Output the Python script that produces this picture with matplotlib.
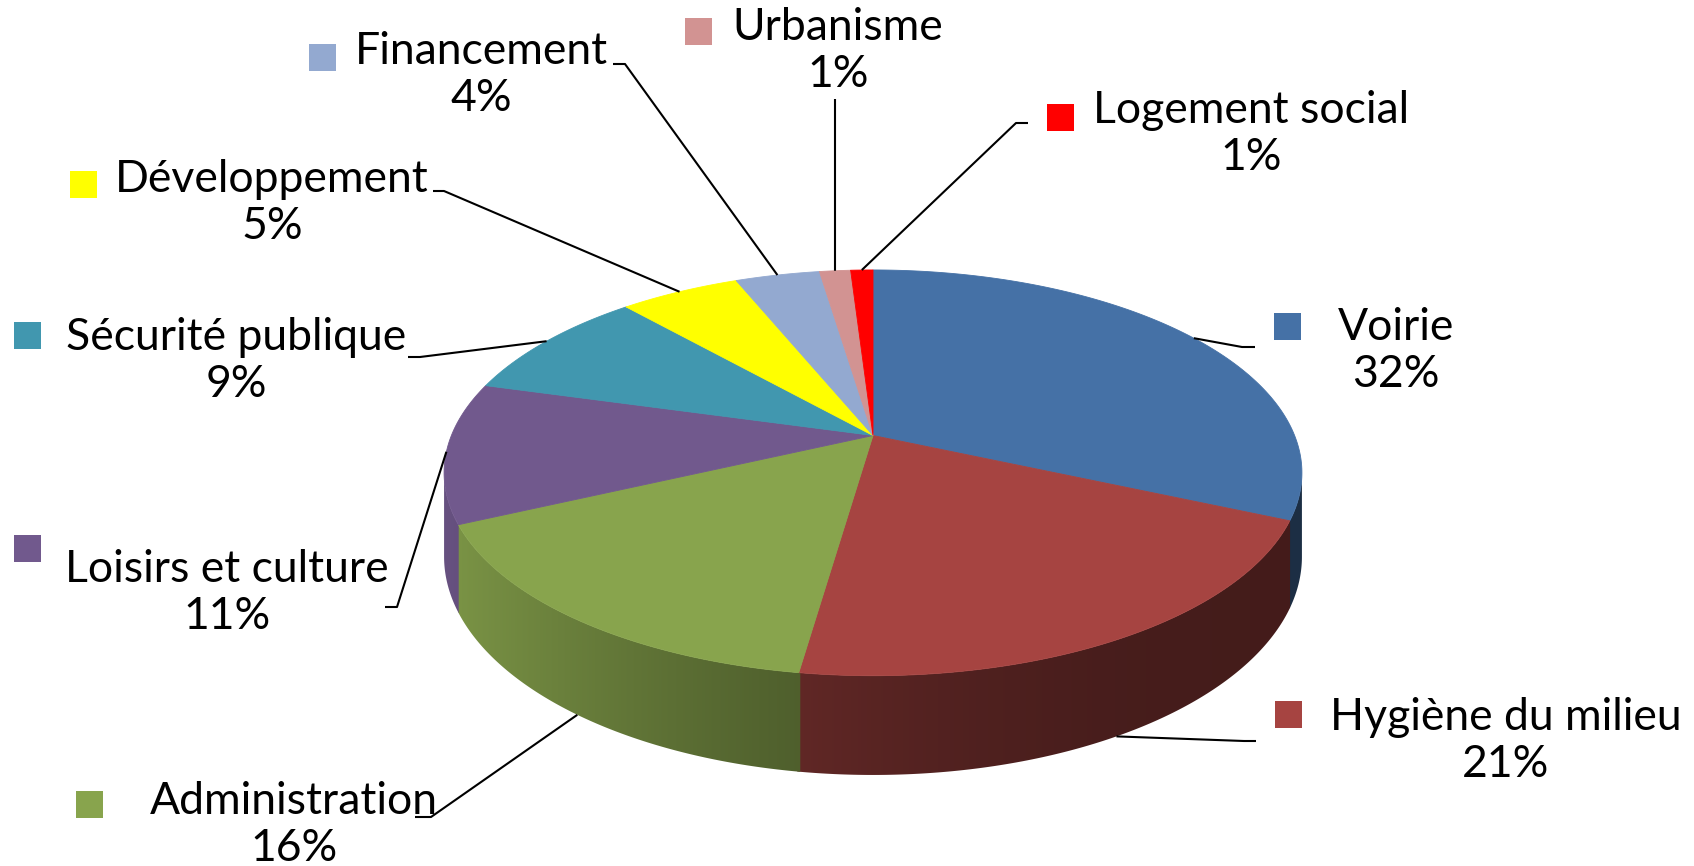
import matplotlib.pyplot as plt
import numpy as np
from matplotlib.patches import Polygon, Rectangle
from matplotlib.colors import to_rgb

# data
categories = ['Voirie', 'Hygiène du milieu', 'Administration', 'Loisirs et culture',
              'Sécurité publique', 'Développement', 'Financement', 'Urbanisme',
              'Logement social']
shares = [31.6, 20.7, 15.8, 11.2, 9.1, 5.4, 3.8, 1.4, 1.0]
colors = ['#4571A6', '#A64441', '#88A44D', '#71598D', '#4197AF',
          '#FFFF00', '#93A9D0', '#D29392', '#FF0000']

# label layout (pixel coords): text centre x, first baseline
label_xy = [(1396, 340), (1506, 730), (294, 814), (227, 582), (236, 350),
            (272, 192), (481, 64), (838, 40), (1251, 123)]
# legend key top-left corners
key_xy = [(1274, 313), (1275, 701), (76, 791), (14, 535), (14, 322),
          (70, 171), (309, 44), (685, 18), (1047, 104)]
# leader lines: points after the anchor on the pie
leader_pts = [[(1242, 347), (1255, 347)],
              [(1244, 741), (1256, 741)],
              [(431, 817), (415, 817)],
              [(397, 607), (385, 607)],
              [(420, 357), (408, 357)],
              [(444, 191), (433, 191)],
              [(625, 64), (613, 64)],
              [(835, 99)],
              [(1016, 123), (1028, 123)]]

# 3D pie geometry (pixels)
CX, CY = 873, 435.5
RX, RY = 421.6, 196
PERSP = 0.184
DEPTH = 81
XMIN = CX - RX / np.sqrt(1 - PERSP ** 2)
XMAX = CX + RX / np.sqrt(1 - PERSP ** 2)


def project(theta, drop=0.0):
    # theta: clockwise from 12 o'clock
    x, y = np.sin(theta), np.cos(theta)
    s = 1 / (1 + PERSP * y)
    return CX + RX * x * s, CY - RY * y * s + DEPTH * s * drop


def shade_factor(X):
    t = np.clip((X - XMIN) / (XMAX - XMIN), 0, 1)
    return 0.41 + 0.5 * (1 - t) ** 2


fig = plt.figure(figsize=(16.94, 8.66), dpi=100)
ax = fig.add_axes([0, 0, 1, 1])
ax.set_xlim(0, 1694)
ax.set_ylim(866, 0)
ax.axis('off')

fracs = np.array(shares) / sum(shares)
bounds = np.concatenate([[0], np.cumsum(fracs)]) * 2 * np.pi

# visible part of the side wall, shaded left to right
th_r = np.arccos(-PERSP)
th_l = 2 * np.pi - th_r
xs_grad = np.linspace(XMIN, XMAX, 600)
for i, col in enumerate(colors):
    a = max(bounds[i] - 0.003, th_r)
    b = min(bounds[i + 1] + 0.003, th_l)
    if b <= a:
        continue
    th = np.linspace(a, b, 300)
    tx, ty = project(th)
    bx, by = project(th[::-1], 1)
    poly = Polygon(list(zip(tx, ty)) + list(zip(bx, by)), closed=True,
                   facecolor='none', edgecolor='none')
    ax.add_patch(poly)
    img = np.array(to_rgb(col))[None, None, :] * shade_factor(xs_grad)[None, :, None]
    img = np.repeat(img, 2, axis=0)
    im = ax.imshow(img, extent=(XMIN, XMAX, 800, 250), aspect='auto',
                   interpolation='bilinear', zorder=1)
    im.set_clip_path(poly)

# top face
for i, col in enumerate(colors):
    th = np.linspace(bounds[i], bounds[i + 1], 200)
    xs, ys = project(th)
    pts = [(CX, CY)] + list(zip(xs, ys))
    ax.add_patch(Polygon(pts, closed=True, facecolor=col, edgecolor=col,
                         lw=0.6, zorder=2))

ax.set_xlim(0, 1694)
ax.set_ylim(866, 0)

# leader lines, keys and labels
for i, name in enumerate(categories):
    mid = (bounds[i] + bounds[i + 1]) / 2
    front = np.cos(mid) < -0.3
    ax_, ay_ = project(mid, 1 if front else 0)
    pts = [(ax_, ay_)] + leader_pts[i]
    ax.plot([p[0] for p in pts], [p[1] for p in pts], color='black', lw=1.5,
            solid_capstyle='butt', zorder=3)

    kx, ky = key_xy[i]
    ax.add_patch(Rectangle((kx, ky), 27, 27, facecolor=colors[i],
                           edgecolor='none', zorder=3))

    tx, ty = label_xy[i]
    ax.text(tx, ty, name, ha='center', va='baseline', fontsize=32,
            family='Lato', color='black', zorder=4)
    ax.text(tx, ty + 47, f'{shares[i]:.0f}%', ha='center', va='baseline',
            fontsize=32, family='Lato', color='black', zorder=4)

fig.savefig('out.png', dpi=100, facecolor='white')
